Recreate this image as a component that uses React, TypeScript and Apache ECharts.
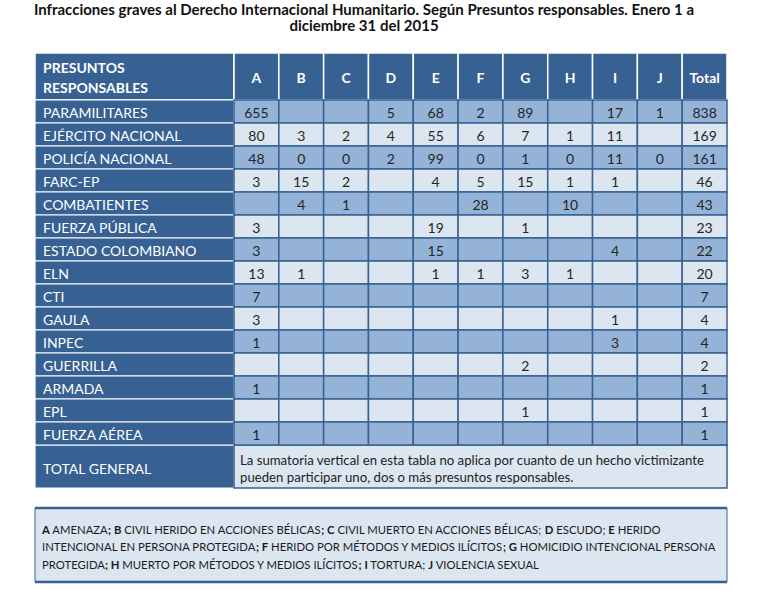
import React, { useEffect, useRef } from "react";
import * as echarts from "echarts";

const titulo1 = "Infracciones graves al Derecho Internacional Humanitario. Según Presuntos responsables. Enero 1 a";
const titulo2 = "diciembre 31 del 2015";

const columnas = ["A", "B", "C", "D", "E", "F", "G", "H", "I", "J", "Total"];
const responsables = [
  "PARAMILITARES",
  "EJÉRCITO NACIONAL",
  "POLICÍA NACIONAL",
  "FARC-EP",
  "COMBATIENTES",
  "FUERZA PÚBLICA",
  "ESTADO COLOMBIANO",
  "ELN",
  "CTI",
  "GAULA",
  "INPEC",
  "GUERRILLA",
  "ARMADA",
  "EPL",
  "FUERZA AÉREA",
];

//                     A     B     C     D     E     F     G     H     I     J     Total
const paramilitares = [655, null, null, 5, 68, 2, 89, null, 17, 1, 838];
const ejercito = [80, 3, 2, 4, 55, 6, 7, 1, 11, null, 169];
const policia = [48, 0, 0, 2, 99, 0, 1, 0, 11, 0, 161];
const farc = [3, 15, 2, null, 4, 5, 15, 1, 1, null, 46];
const combatientes = [null, 4, 1, null, null, 28, null, 10, null, null, 43];
const fuerzaPublica = [3, null, null, null, 19, null, 1, null, null, null, 23];
const estado = [3, null, null, null, 15, null, null, null, 4, null, 22];
const eln = [13, 1, null, null, 1, 1, 3, 1, null, null, 20];
const cti = [7, null, null, null, null, null, null, null, null, null, 7];
const gaula = [3, null, null, null, null, null, null, null, 1, null, 4];
const inpec = [1, null, null, null, null, null, null, null, 3, null, 4];
const guerrilla = [null, null, null, null, null, null, 2, null, null, null, 2];
const armada = [1, null, null, null, null, null, null, null, null, null, 1];
const epl = [null, null, null, null, null, null, 1, null, null, null, 1];
const fuerzaAerea = [1, null, null, null, null, null, null, null, null, null, 1];

const valores: (number | null)[][] = [
  paramilitares, ejercito, policia, farc, combatientes, fuerzaPublica, estado,
  eln, cti, gaula, inpec, guerrilla, armada, epl, fuerzaAerea,
];

const totalGeneral = "TOTAL GENERAL";
const nota1 = "La sumatoria vertical en esta tabla no aplica por cuanto de un hecho victimizante";
const nota2 = "pueden participar uno, dos o más presuntos responsables.";

const leyenda1 = "{b|A} AMENAZA{b|; B} CIVIL HERIDO EN ACCIONES BÉLICAS{b|; C} CIVIL MUERTO EN ACCIONES BÉLICAS; {b|D} ESCUDO; {b|E} HERIDO";
const leyenda2 = "INTENCIONAL EN PERSONA PROTEGIDA{b|; F} HERIDO POR MÉTODOS Y MEDIOS ILÍCITOS{b|; G} HOMICIDIO INTENCIONAL PERSONA";
const leyenda3 = "PROTEGIDA{b|; H} MUERTO POR MÉTODOS Y MEDIOS ILÍCITOS{b|; I} TORTURA; {b|J} VIOLENCIA SEXUAL";

const DARK = "#376193";
const MED = "#95b3d7";
const LIGHT = "#dce6f1";
const FONT = "Lato, 'Noto Sans', sans-serif";

export default function App() {
  const ref = useRef<HTMLDivElement>(null);
  useEffect(() => {
    if (!ref.current) return;
    const chart = echarts.init(ref.current, null, { renderer: "svg" });

    const cellData: any[] = [];
    const cellText: string[] = [];
    valores.forEach((fila, r) => {
      fila.forEach((v, c) => {
        cellData.push([c, r]);
        cellText.push(v === null ? "" : String(v));
      });
    });

    const option: any = {
      animation: false,
      backgroundColor: "#ffffff",
      grid: [
        { left: 234, right: 33, top: 53, height: 47, outerBoundsMode: "none" },
        { left: 35, width: 199, top: 100, height: 345, outerBoundsMode: "none" },
        { left: 234, right: 33, top: 100, height: 345, outerBoundsMode: "none" },
      ],
      xAxis: [
        { gridIndex: 0, type: "category", data: columnas, show: false },
        { gridIndex: 1, type: "category", data: ["responsable"], show: false },
        { gridIndex: 2, type: "category", data: columnas, show: false },
      ],
      yAxis: [
        { gridIndex: 0, type: "category", data: ["encabezado"], show: false },
        { gridIndex: 1, type: "category", data: responsables, inverse: true, show: false },
        { gridIndex: 2, type: "category", data: responsables, inverse: true, show: false },
      ],
      series: [
        {
          type: "custom",
          xAxisIndex: 0,
          yAxisIndex: 0,
          data: columnas.map((_, i) => [i, 0]),
          renderItem: (params: any, api: any) => {
            const p = api.coord([api.value(0), api.value(1)]);
            const s = api.size([1, 1]);
            return {
              type: "group",
              children: [
                {
                  type: "rect",
                  shape: { x: p[0] - s[0] / 2, y: p[1] - s[1] / 2, width: s[0], height: s[1] },
                  style: { fill: DARK, stroke: "#ffffff", lineWidth: 1.5 },
                },
                {
                  type: "text",
                  style: {
                    text: columnas[params.dataIndex],
                    x: p[0],
                    y: p[1] + 1,
                    align: "center",
                    verticalAlign: "middle",
                    fill: "#ffffff",
                    font: `bold 14px ${FONT}`,
                  },
                },
              ],
            };
          },
        },
        {
          type: "custom",
          xAxisIndex: 1,
          yAxisIndex: 1,
          data: responsables.map((_, i) => [0, i]),
          renderItem: (params: any, api: any) => {
            const p = api.coord([api.value(0), api.value(1)]);
            const s = api.size([1, 1]);
            const x0 = p[0] - s[0] / 2;
            return {
              type: "group",
              children: [
                {
                  type: "rect",
                  shape: { x: x0, y: p[1] - s[1] / 2, width: s[0], height: s[1] },
                  style: { fill: DARK, stroke: "#ffffff", lineWidth: 1.2 },
                },
                {
                  type: "text",
                  style: {
                    text: responsables[params.dataIndex],
                    x: x0 + 8,
                    y: p[1] + 1,
                    align: "left",
                    verticalAlign: "middle",
                    fill: "#ffffff",
                    font: `14px ${FONT}`,
                  },
                },
              ],
            };
          },
        },
        {
          type: "custom",
          xAxisIndex: 2,
          yAxisIndex: 2,
          data: cellData,
          renderItem: (params: any, api: any) => {
            const r = api.value(1);
            const p = api.coord([api.value(0), r]);
            const s = api.size([1, 1]);
            return {
              type: "group",
              children: [
                {
                  type: "rect",
                  shape: { x: p[0] - s[0] / 2, y: p[1] - s[1] / 2, width: s[0], height: s[1] },
                  style: { fill: r % 2 === 0 ? MED : LIGHT, stroke: DARK, lineWidth: 1.5 },
                },
                {
                  type: "text",
                  style: {
                    text: cellText[params.dataIndex],
                    x: p[0],
                    y: p[1] + 1,
                    align: "center",
                    verticalAlign: "middle",
                    fill: "#262626",
                    font: `14px ${FONT}`,
                  },
                },
              ],
            };
          },
        },
      ],
      graphic: [
        {
          type: "text",
          x: 364,
          y: 8.5,
          style: { text: titulo1, align: "center", verticalAlign: "middle", fill: "#111111", font: `bold 15px ${FONT}`, lineHeight: 15 },
        },
        {
          type: "text",
          x: 364,
          y: 25,
          style: { text: titulo2, align: "center", verticalAlign: "middle", fill: "#111111", font: `bold 15px ${FONT}`, lineHeight: 15 },
        },
        {
          type: "rect",
          shape: { x: 35, y: 53, width: 199, height: 47 },
          style: { fill: DARK, stroke: "#ffffff", lineWidth: 1.5 },
        },
        {
          type: "text",
          x: 43,
          y: 67,
          style: { text: "PRESUNTOS", align: "left", verticalAlign: "middle", fill: "#ffffff", font: `bold 14px ${FONT}` },
        },
        {
          type: "text",
          x: 43,
          y: 87,
          style: { text: "RESPONSABLES", align: "left", verticalAlign: "middle", fill: "#ffffff", font: `bold 14px ${FONT}` },
        },
        {
          type: "rect",
          shape: { x: 35, y: 445, width: 199, height: 43 },
          style: { fill: DARK, stroke: "#ffffff", lineWidth: 1.2 },
        },
        {
          type: "text",
          x: 43,
          y: 468,
          style: { text: totalGeneral, align: "left", verticalAlign: "middle", fill: "#ffffff", font: `14px ${FONT}` },
        },
        {
          type: "rect",
          shape: { x: 234, y: 445, width: 493, height: 43 },
          style: { fill: LIGHT, stroke: DARK, lineWidth: 1.5 },
        },
        {
          type: "text",
          x: 240,
          y: 460,
          style: { text: nota1, align: "left", verticalAlign: "middle", fill: "#222222", font: `13.2px ${FONT}` },
        },
        {
          type: "text",
          x: 240,
          y: 477,
          style: { text: nota2, align: "left", verticalAlign: "middle", fill: "#222222", font: `13.2px ${FONT}` },
        },
        {
          type: "rect",
          shape: { x: 35, y: 508, width: 692, height: 74 },
          style: { fill: LIGHT, stroke: DARK, lineWidth: 1 },
        },
        {
          type: "line",
          shape: { x1: 35, y1: 508, x2: 727, y2: 508 },
          style: { stroke: DARK, lineWidth: 2.5 },
        },
        {
          type: "line",
          shape: { x1: 35, y1: 582, x2: 727, y2: 582 },
          style: { stroke: DARK, lineWidth: 2.5 },
        },
        ...[leyenda1, leyenda2, leyenda3].map((t, i) => ({
          type: "text",
          x: 42,
          y: 529 + i * 17.5,
          style: {
            text: t,
            align: "left",
            verticalAlign: "middle",
            fill: "#1a1a1a",
            font: `11.3px ${FONT}`,
            rich: { b: { fontWeight: "bold", fontSize: 11.3, fontFamily: FONT, fill: "#1a1a1a" } },
          },
        })),
      ],
    };
    chart.setOption(option);
    return () => chart.dispose();
  }, []);

  return (
    <div
      ref={ref}
      style={{ position: "absolute", left: 0, top: 0, width: 760, height: 596 }}
    />
  );
}
